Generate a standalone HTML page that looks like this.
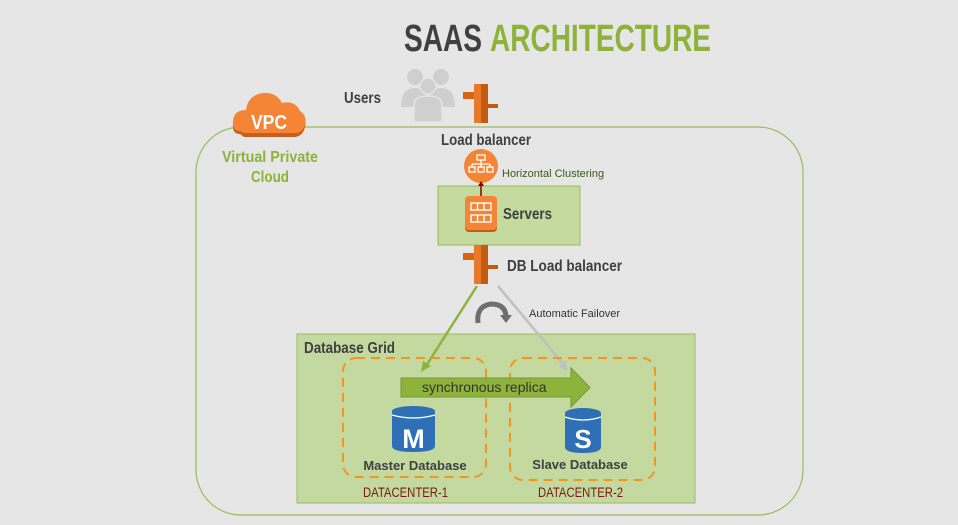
<!DOCTYPE html>
<html><head><meta charset="utf-8"><style>
html,body{margin:0;padding:0;background:#e6e6e6;}
svg{display:block;}
.c{font-family:"Liberation Sans",sans-serif;font-weight:bold;}
</style></head><body>
<svg width="958" height="525" viewBox="0 0 958 525" xmlns="http://www.w3.org/2000/svg">
<rect width="958" height="525" fill="#e6e6e6"/>
<text class="c" x="404" y="51" font-size="38" fill="#404040" textLength="78" lengthAdjust="spacingAndGlyphs">SAAS</text>
<text class="c" x="490" y="51" font-size="38" fill="#8db33a" textLength="221" lengthAdjust="spacingAndGlyphs">ARCHITECTURE</text>
<!-- VPC -->
<rect x="196" y="127" width="607" height="388" rx="45" fill="none" stroke="#9bbb59" stroke-width="1.2"/>
<g>
<path d="M240 134 Q232 134 233 124 Q234 113 246 113 Q248 98 263 96 Q276 95 282 106 Q295 103 300 114 Q307 118 305 127 Q303 136 295 137 L244 137 Z" fill="#c5601f"/>
<path d="M240 131 Q232 131 233 121 Q234 110 246 110 Q248 95 263 93 Q276 92 282 103 Q295 100 300 111 Q307 115 305 124 Q303 133 295 133 L244 133 Z" fill="#f58536"/>
<text class="c" x="269" y="129" font-size="20" fill="#fff" text-anchor="middle" textLength="36" lengthAdjust="spacingAndGlyphs">VPC</text>
</g>
<text class="c" x="270" y="162" font-size="16" fill="#8db33a" text-anchor="middle" textLength="96" lengthAdjust="spacingAndGlyphs">Virtual Private</text>
<text class="c" x="270" y="182" font-size="16" fill="#8db33a" text-anchor="middle" textLength="38" lengthAdjust="spacingAndGlyphs">Cloud</text>
<!-- Users -->
<text class="c" x="344" y="103" font-size="16" fill="#404040" textLength="37" lengthAdjust="spacingAndGlyphs">Users</text>
<g fill="#cfcfcf">
<circle cx="415" cy="77" r="8"/><circle cx="441" cy="77" r="8"/>
<path d="M401 107 Q401 88 415 88 Q429 88 429 107 Z"/><path d="M427 107 Q427 88 441 88 Q455 88 455 107 Z"/>
<circle cx="428" cy="86" r="8" stroke="#e6e6e6" stroke-width="1.5"/>
<path d="M414 122 L414 105 Q414 96 428 96 Q442 96 442 105 L442 122 Z" stroke="#e6e6e6" stroke-width="1.5"/>
</g>
<!-- LB icon top -->
<g>
<rect x="463" y="92" width="12" height="7" fill="#d86613"/>
<rect x="474" y="84" width="14" height="39" fill="#e8782a"/>
<rect x="481" y="84" width="7" height="39" fill="#c55a11"/>
<rect x="487" y="104" width="11" height="4" fill="#c55a11"/>
</g>
<text class="c" x="441" y="145" font-size="16" fill="#404040" textLength="90" lengthAdjust="spacingAndGlyphs">Load balancer</text>
<circle cx="481" cy="166" r="17" fill="#f58536"/>
<g fill="none" stroke="#fff" stroke-width="1.3">
<rect x="477" y="155" width="8" height="5"/><path d="M481 160 V164 M472 164 H490 M472 164 V167 M481 164 V167 M490 164 V167"/>
<rect x="469" y="167" width="6" height="5"/><rect x="478" y="167" width="6" height="5"/><rect x="487" y="167" width="6" height="5"/>
</g>
<text x="502" y="177" font-family="Liberation Sans,sans-serif" font-size="11" fill="#3a5a1a">Horizontal Clustering</text>
<!-- Servers -->
<rect x="438" y="186" width="142" height="59" fill="#c4da9f" stroke="#9bbb59"/>
<line x1="481" y1="184" x2="481" y2="198" stroke="#8b0000" stroke-width="1.5"/>
<path d="M478 186 L481 181 L484 186 Z M478 196 L481 201 L484 196 Z" fill="#8b0000"/>
<rect x="465" y="198" width="32" height="34" rx="4" fill="#c55a11"/>
<rect x="465" y="196" width="32" height="34" rx="4" fill="#f58536"/>
<g fill="none" stroke="#fff" stroke-width="1.4"><rect x="471" y="203" width="20" height="7"/><rect x="471" y="215" width="20" height="7"/><path d="M477.5 203v7M484 203v7M477.5 215v7M484 215v7"/></g>
<text class="c" x="503" y="219" font-size="16" fill="#404040" textLength="49" lengthAdjust="spacingAndGlyphs">Servers</text>
<!-- DB LB -->
<g>
<rect x="463" y="253" width="12" height="7" fill="#d86613"/>
<rect x="474" y="245" width="14" height="39" fill="#e8782a"/>
<rect x="481" y="245" width="7" height="39" fill="#c55a11"/>
<rect x="487" y="265" width="11" height="4" fill="#c55a11"/>
</g>
<text class="c" x="507" y="271" font-size="16" fill="#404040" textLength="115" lengthAdjust="spacingAndGlyphs">DB Load balancer</text>
<!-- Database Grid -->
<rect x="297" y="334" width="398" height="169" fill="#c3d99f" stroke="#9bbb59"/>
<text class="c" x="304" y="353" font-size="16" fill="#404040" textLength="91" lengthAdjust="spacingAndGlyphs">Database Grid</text>
<!-- connectors -->
<line x1="477" y1="286" x2="426" y2="366" stroke="#8db33a" stroke-width="2.5"/>
<path d="M421 372 L423 361 L431 366 Z" fill="#8db33a"/>
<line x1="498" y1="286" x2="564" y2="365" stroke="#bfbfbf" stroke-width="2.5"/>
<path d="M567 371 L559 366 L566 360 Z" fill="#bfbfbf"/>
<path d="M478 323 Q476 306 491 304 Q505 304 506 316" fill="none" stroke="#6e6e6e" stroke-width="5"/>
<path d="M500 315 L512 315 L506 323 Z" fill="#6e6e6e"/>
<text x="529" y="317" font-family="Liberation Sans,sans-serif" font-size="11" fill="#333">Automatic Failover</text>
<!-- datacenters -->
<rect x="343" y="358" width="143" height="119" rx="13" fill="none" stroke="#f7941d" stroke-width="2" stroke-dasharray="9,6"/>
<rect x="510" y="358" width="145" height="122" rx="13" fill="none" stroke="#f7941d" stroke-width="2" stroke-dasharray="9,6"/>
<path d="M401 378 H571 V368 L590 387.5 L571 407 V397 H401 Z" fill="#8db33a" stroke="#76963a"/>
<text x="422" y="392" font-family="Liberation Sans,sans-serif" font-size="14" fill="#333">synchronous replica</text>
<!-- M cylinder -->
<path d="M392 411 V446 Q392 452 413.5 452 Q435 452 435 446 V411 Z" fill="#2f6fb5"/>
<ellipse cx="413.5" cy="411" rx="21.5" ry="5" fill="#2f6fb5"/>
<path d="M392 415 Q413.5 421 435 415" fill="none" stroke="#fff" stroke-width="1.2"/>
<text x="413.5" y="448" font-family="Liberation Sans,sans-serif" font-weight="bold" font-size="27" fill="#fff" text-anchor="middle">M</text>
<path d="M565 413 V447 Q565 453 583 453 Q601 453 601 447 V413 Z" fill="#2f6fb5"/>
<ellipse cx="583" cy="413" rx="18" ry="5" fill="#2f6fb5"/>
<path d="M565 417 Q583 423 601 417" fill="none" stroke="#fff" stroke-width="1.2"/>
<text x="583" y="448" font-family="Liberation Sans,sans-serif" font-weight="bold" font-size="26" fill="#fff" text-anchor="middle">S</text>
<text x="415" y="470" font-family="Liberation Sans,sans-serif" font-weight="bold" font-size="13" fill="#404040" text-anchor="middle">Master Database</text>
<text x="580" y="469" font-family="Liberation Sans,sans-serif" font-weight="bold" font-size="13" fill="#404040" text-anchor="middle">Slave Database</text>
<text x="363" y="497" font-family="Liberation Sans,sans-serif" font-size="14" fill="#7a1a10" textLength="85" lengthAdjust="spacingAndGlyphs">DATACENTER-1</text>
<text x="538" y="497" font-family="Liberation Sans,sans-serif" font-size="14" fill="#7a1a10" textLength="85" lengthAdjust="spacingAndGlyphs">DATACENTER-2</text>
</svg>
</body></html>
